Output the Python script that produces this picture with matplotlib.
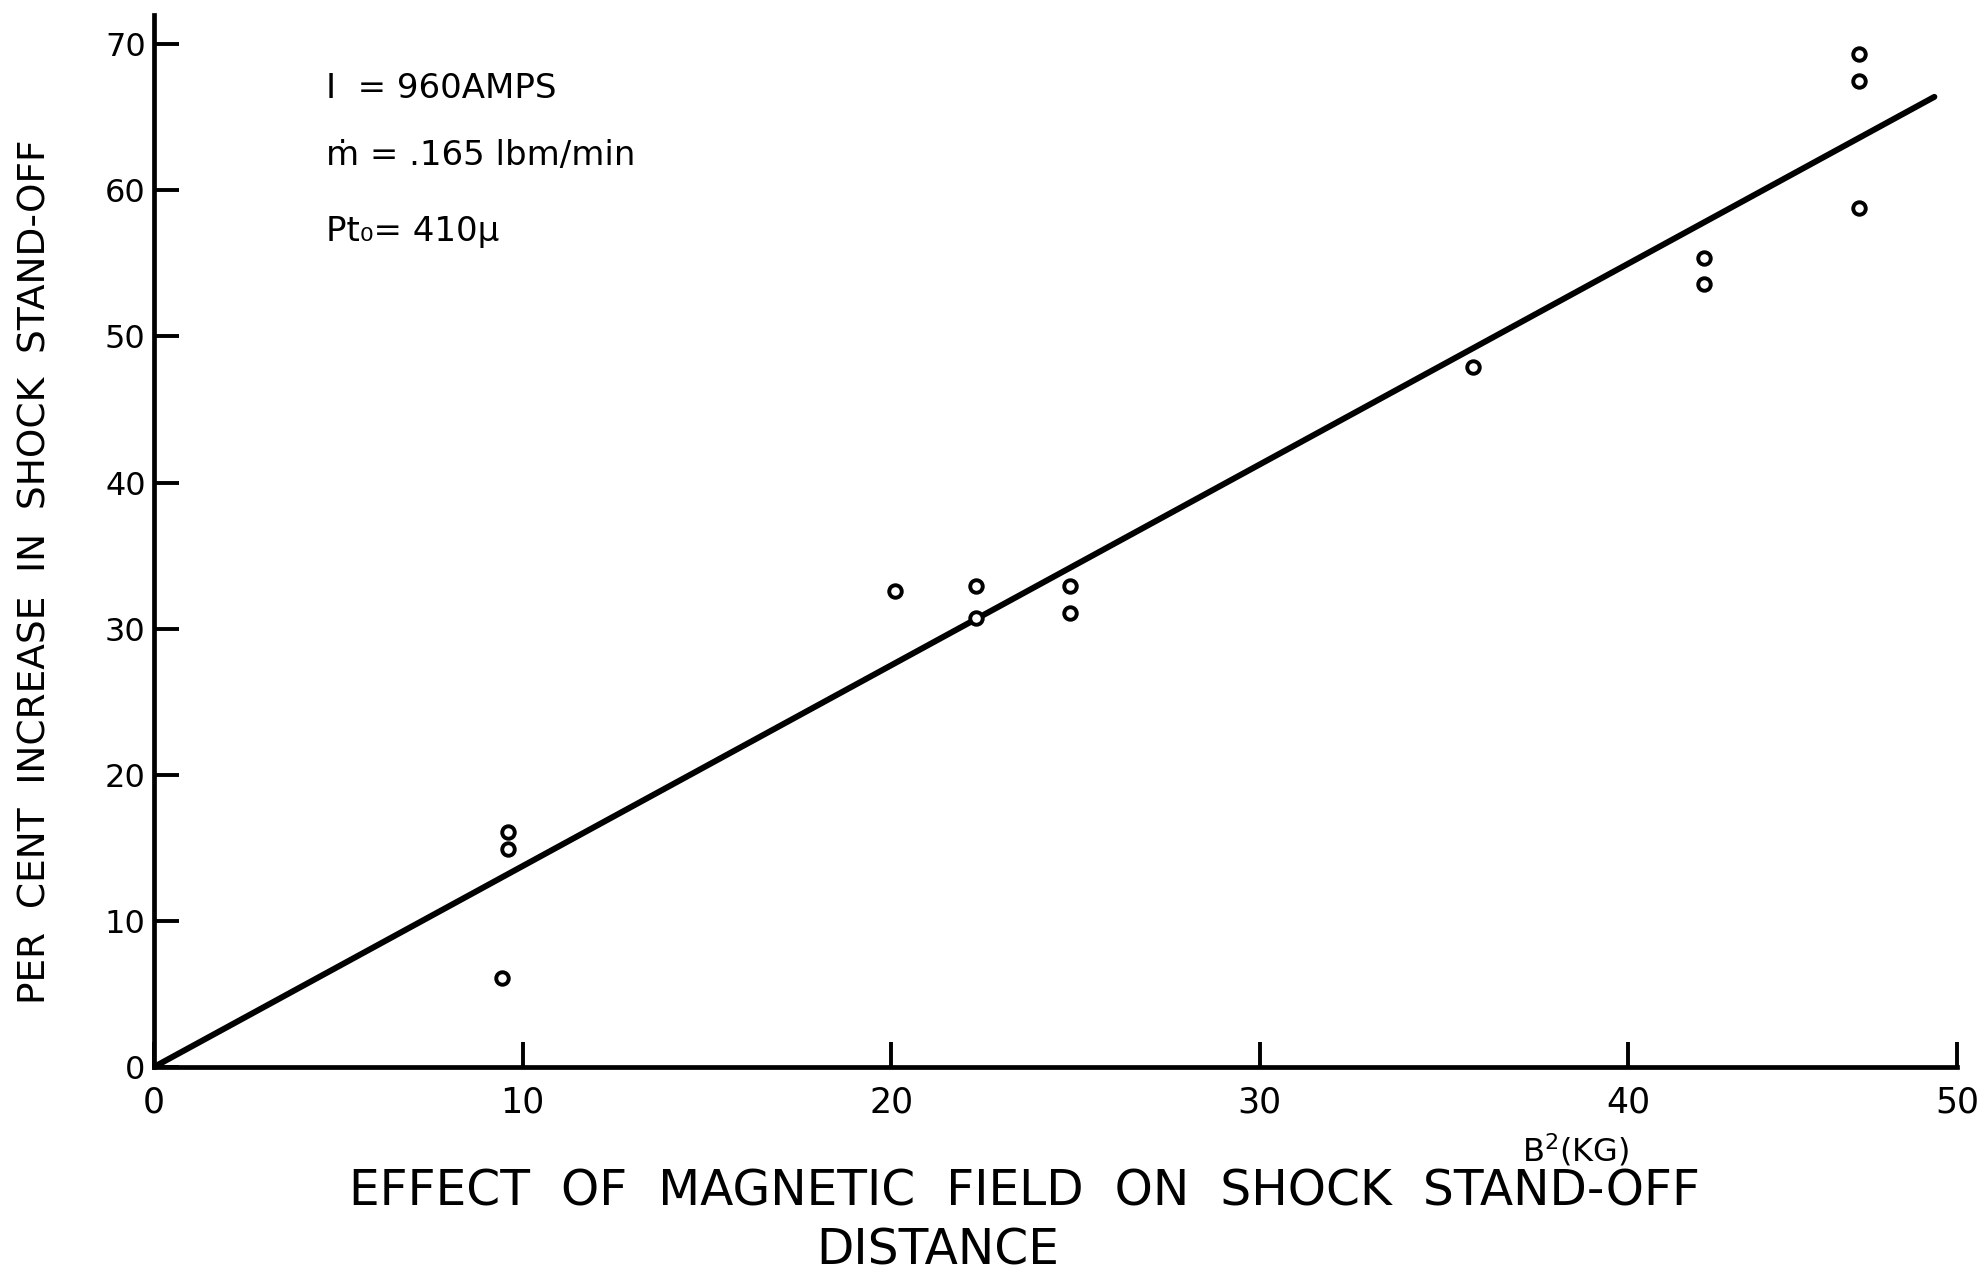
import matplotlib
matplotlib.use("Agg")
import matplotlib.pyplot as plt
import numpy as np

# data
b2 = [9.45, 9.6, 9.6, 20.1, 22.3, 22.3, 24.85, 24.85, 35.8, 42.3, 42.3, 47.0, 47.0, 47.0]
pct = [6.1, 16.1, 14.9, 32.6, 32.9, 30.7, 32.9, 31.1, 47.9, 55.4, 53.6, 69.3, 67.5, 58.8]
fit_x = [0.0, 49.3]
fit_y = [0.0, 66.4]
xticks = [0, 10, 20, 30, 40, 50]
yticks = [0, 10, 20, 30, 40, 50, 60, 70]

# the hand drawn x axis has its last division (40-50) a bit short
SQ = 0.893


def fwd(x):
    x = np.asarray(x, dtype=float)
    return np.where(x <= 40, x, 40 + (x - 40) * SQ)


def inv(u):
    u = np.asarray(u, dtype=float)
    return np.where(u <= 40, u, 40 + (u - 40) / SQ)


fig = plt.figure(figsize=(19.84, 12.74), dpi=100)
ax = fig.add_axes([0.0776, 0.1625, 0.909, 0.8257])
ax.set_xscale("function", functions=(fwd, inv))

ax.plot(fit_x, fit_y, color="black", lw=4.3, solid_capstyle="round")
ax.plot(b2, pct, "o", mfc="white", mec="black", ms=9, mew=2.8)

ax.set_xlim(0, 50)
ax.set_ylim(0, 72)
ax.set_xticks(xticks)
ax.set_xticklabels([str(t) for t in xticks])
ax.set_yticks(yticks)
ax.minorticks_off()
ax.spines["top"].set_visible(False)
ax.spines["right"].set_visible(False)
for s in ("left", "bottom"):
    ax.spines[s].set_linewidth(3.4)
ax.tick_params(axis="both", direction="in", length=18, width=2.8)
ax.tick_params(axis="x", pad=13)
ax.tick_params(axis="y", pad=6)
for lab in ax.get_xticklabels():
    lab.set_fontsize(25)
for lab in ax.get_yticklabels():
    lab.set_fontsize(23)

# condition notes
ax.text(4.67, 67.0, "I  = 960AMPS", fontsize=24.5, va="center")
ax.text(4.67, 62.4, "ṁ = .165 lbm/min", fontsize=24.5, va="center")
ax.text(4.67, 57.2, "Pt₀= 410μ", fontsize=24.5, va="center")

fig.text(0.0177, 0.551, "PER  CENT  INCREASE  IN  SHOCK  STAND-OFF", rotation=90,
         fontsize=27, ha="center", va="center")
fig.text(0.767, 0.083, "B$^{2}$(KG)", fontsize=23, ha="left", va="bottom")
fig.text(0.5166, 0.0651, "EFFECT  OF  MAGNETIC  FIELD  ON  SHOCK  STAND-OFF",
         fontsize=35, ha="center", va="center")
fig.text(0.4728, 0.0188, "DISTANCE", fontsize=35, ha="center", va="center")

fig.savefig("out.png", dpi=100)
